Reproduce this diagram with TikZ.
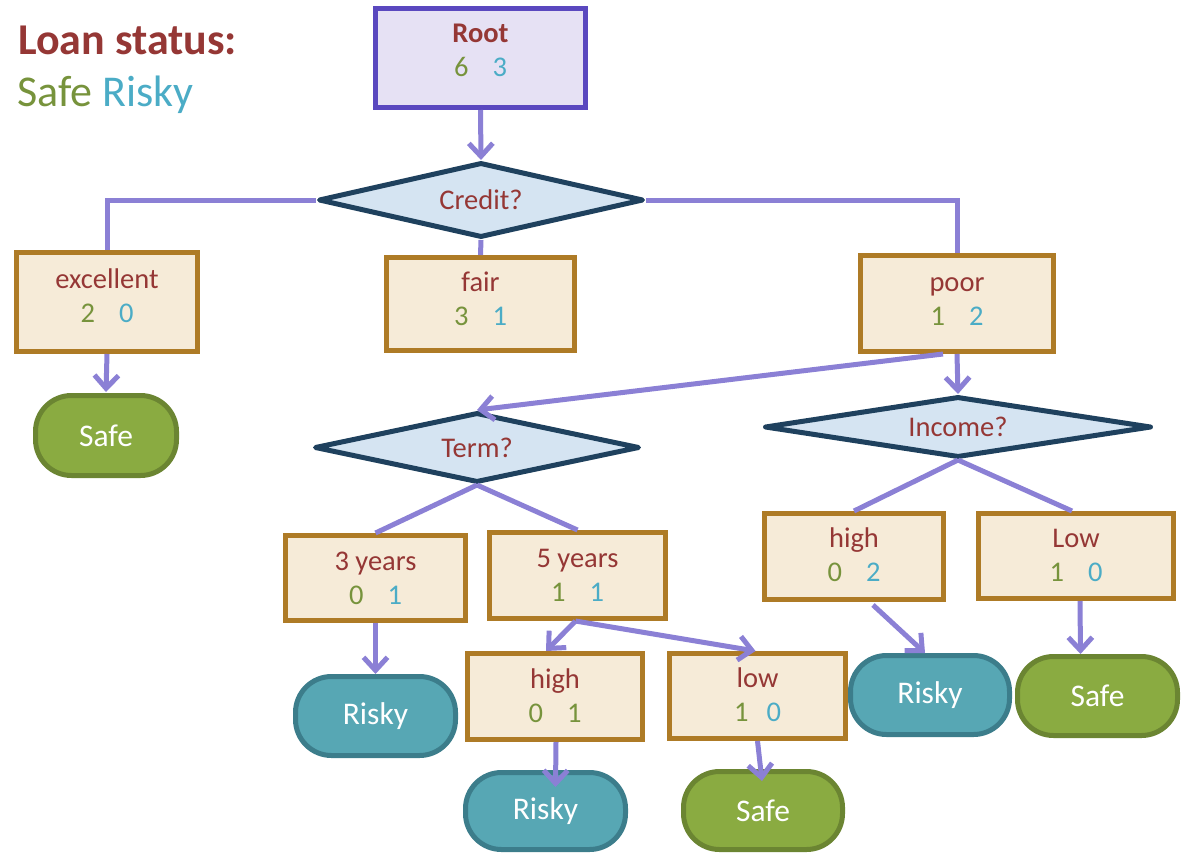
\documentclass[tikz,border=0pt]{standalone}
\usepackage{fontspec}
\setmainfont{Carlito}
\usetikzlibrary{shapes.geometric,arrows.meta}

\definecolor{labelred}{HTML}{953735}
\definecolor{safenum}{HTML}{77933C}
\definecolor{riskynum}{HTML}{4BACC6}
\definecolor{boxfill}{HTML}{F6EBD8}
\definecolor{boxline}{HTML}{AE7B26}
\definecolor{rootfill}{HTML}{E6E1F4}
\definecolor{rootline}{HTML}{5A48BF}
\definecolor{testfill}{HTML}{D5E4F2}
\definecolor{testline}{HTML}{1F415E}
\definecolor{connline}{HTML}{8B80D5}
\definecolor{riskyfill}{HTML}{57A7B4}
\definecolor{riskyline}{HTML}{3C7D8B}
\definecolor{safefill}{HTML}{8AAB41}
\definecolor{safeline}{HTML}{6B8532}

% class counts: safe (green) and risky (teal)
\newcommand\splitcount[3][24pt]{\textcolor{safenum}{#2}\hspace{#1}\textcolor{riskynum}{#3}}
% two-line box text, shifted vertically inside its box
\newcommand\boxtext[3][-16pt]{\raisebox{#1}{\smash{\begin{tabular}{@{}c@{}}#2\\#3\end{tabular}}}}

\begin{document}
\begin{tikzpicture}[x=1pt,y=-1pt,
  split/.style={rectangle, draw=boxline, fill=boxfill, line width=5pt,
    align=center, inner sep=0pt, text=labelred,
    font=\fontsize{28.5}{34}\selectfont},
  rootbox/.style={split, draw=rootline, fill=rootfill},
  test/.style={diamond, draw=testline, fill=testfill, line width=5pt,
    line join=round, shape aspect=5, inner sep=0pt, text=labelred,
    font=\fontsize{28.5}{34}\selectfont},
  leaf/.style={rectangle, rounded corners=36pt, line width=5pt,
    text=white, font=\fontsize{31.5}{36}\selectfont},
  riskyleaf/.style={leaf, draw=riskyline, fill=riskyfill},
  safeleaf/.style={leaf, draw=safeline, fill=safefill},
  conn/.style={draw=connline, line width=5pt},
  arr/.style={conn, -{Straight Barb[length=13pt,width=24pt]}}
]
\useasboundingbox (0,0) rectangle (1186,854);

% legend
\node[anchor=base west, inner sep=0pt, text=labelred,
  font=\fontsize{44}{48}\selectfont\bfseries] (legendtitle) at (18,54) {Loan status:};
\node[anchor=base west, inner sep=0pt,
  font=\fontsize{44}{48}\selectfont] (legendkeys) at (17,106)
  {\textcolor{safenum}{Safe} \textcolor{riskynum}{Risky}};

% root and first split
\node[rootbox, minimum width=210pt, minimum height=99pt] (root) at (480.5,58)
  {\boxtext[-1.5pt]{\textbf{Root}}{\splitcount{6}{3}}};
\node[test, minimum width=325pt, minimum height=75pt] (credit) at (481,200) {Credit?};

\node[split, minimum width=181pt, minimum height=99pt] (exc) at (107,302)
  {\boxtext[-6.5pt]{excellent}{\splitcount{2}{0}}};
\node[split, minimum width=188pt, minimum height=93pt] (fair) at (480.5,304)
  {\boxtext[-7pt]{fair}{\splitcount{3}{1}}};
\node[split, minimum width=193pt, minimum height=96pt] (poor) at (957,303.5)
  {\boxtext[-8pt]{poor}{\splitcount{1}{2}}};

\node[safeleaf, minimum width=141pt, minimum height=80pt] (safeA) at (106,435.5) {Safe};

% second level tests
\node[test, minimum width=325pt, minimum height=70pt] (term) at (477,447.5) {Term?};
\node[test, minimum width=387pt, minimum height=61pt] (income) at (958,427) {Income?};

% term branch
\node[split, minimum width=180pt, minimum height=85pt] (yrs3) at (375.5,578)
  {\boxtext[-17pt]{3 years}{\splitcount{0}{1}}};
\node[split, minimum width=176pt, minimum height=86pt] (yrs5) at (577.5,575.5)
  {\boxtext{5 years}{\splitcount{1}{1}}};
\node[riskyleaf, minimum width=160pt, minimum height=79pt] (riskyA) at (375.5,716) {Risky};
\node[split, minimum width=175pt, minimum height=86pt] (hiT) at (555,696.5)
  {\boxtext{high}{\textcolor{safenum}{0}\hspace{24pt}\textcolor{safenum}{1}}};
\node[split, minimum width=176pt, minimum height=85pt] (loT) at (757.5,696)
  {\boxtext{low}{\splitcount[18pt]{1}{0}}};
\node[riskyleaf, minimum width=160pt, minimum height=77pt] (riskyB) at (545.5,811) {Risky};
\node[safeleaf, minimum width=159pt, minimum height=78pt] (safeB) at (763,810.5) {Safe};

% income branch
\node[split, minimum width=179pt, minimum height=86pt] (hiI) at (854,556.5)
  {\boxtext[-15pt]{high}{\splitcount{0}{2}}};
\node[split, minimum width=195pt, minimum height=85pt] (loI) at (1076,556)
  {\boxtext{Low}{\splitcount{1}{0}}};
\node[riskyleaf, minimum width=159pt, minimum height=79pt] (riskyC) at (930,695) {Risky};
\node[safeleaf, minimum width=160pt, minimum height=79pt] (safeC) at (1097.5,696) {Safe};

% connectors
\draw[arr] (root.south) -- (credit.north);
\draw[conn] (credit.west) -| (exc.north);
\draw[conn] (credit.east) -| (poor.north);
\draw[conn] (credit.south) -- (fair.north);
\draw[arr] (exc.south) -- ([yshift=1pt]safeA.north);
\draw[arr] (poor.south) -- (income.north);
\draw[arr] ([xshift=-14pt]poor.south) -- (term.north);

\draw[conn] (term.south) -- (yrs3.north);
\draw[conn] (term.south) -- (yrs5.north);
\draw[arr] (yrs3.south) -- (riskyA.north);
\draw[arr] ([xshift=-2pt]yrs5.south) -- ([xshift=-9pt]hiT.north);
\draw[arr] ([xshift=-2pt]yrs5.south) -- ([xshift=-2pt]loT.north);
\draw[arr] ([xshift=1pt]hiT.south) -- ([xshift=10pt,yshift=-17pt]riskyB.north);
\draw[arr] (loT.south) -- ([xshift=-1pt,yshift=-12pt]safeB.north);

\draw[conn] (income.south) -- (hiI.north);
\draw[conn] (income.south) -- ([xshift=-4pt]loI.north);
\draw[arr] ([xshift=19pt,yshift=-3pt]hiI.south) -- ([xshift=-5pt]riskyC.north);
\draw[arr] ([xshift=4pt]loI.south) -- ([xshift=-17pt]safeC.north);
\end{tikzpicture}
\end{document}
